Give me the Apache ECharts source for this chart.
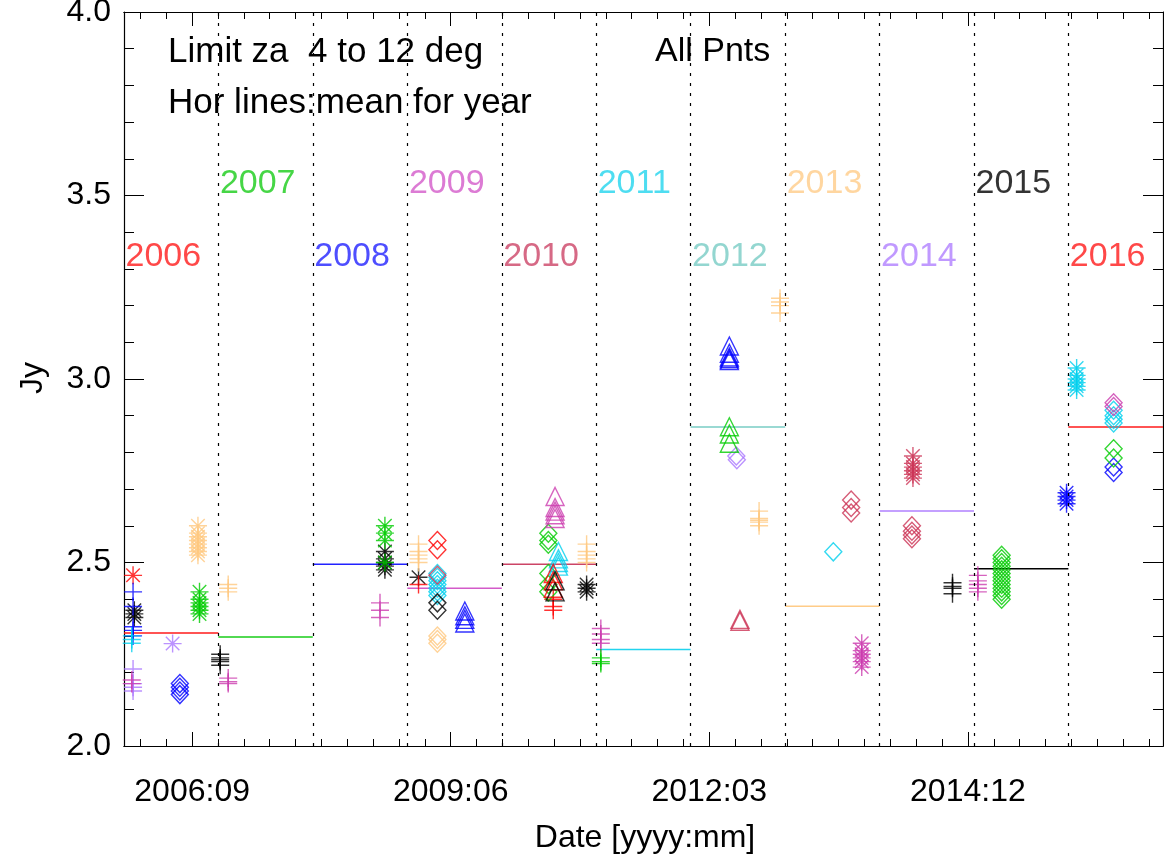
<!DOCTYPE html>
<html><head><meta charset="utf-8">
<script src="https://cdn.jsdelivr.net/npm/echarts@6/dist/echarts.min.js"></script>
<style>html,body{margin:0;padding:0;background:#fff}#c{width:1164px;height:863px}</style>
</head><body><div id="c"></div>
<script>
// ---------------- DATA ----------------
// points: [date, Jy]
const astRed      = [['2006-02-05',2.465]];
const astBlack    = [['2006-02-10',2.37],['2006-02-10',2.36],['2006-02-10',2.35],
                     ['2008-10-06',2.53],['2008-10-06',2.51],['2008-10-06',2.50],['2008-10-06',2.49],['2008-10-06',2.48],
                     ['2009-02-13',2.46],
                     ['2010-11-25',2.44],['2010-11-25',2.43],['2010-11-25',2.42]];
const astGreen    = [['2006-10-20',2.42],['2006-10-20',2.40],['2006-10-20',2.39],['2006-10-20',2.38],['2006-10-20',2.37],['2006-10-20',2.36],
                     ['2008-10-06',2.60],['2008-10-06',2.58],['2008-10-06',2.56],['2008-10-06',2.50]];
const astOrange   = [['2006-10-14',2.60],['2006-10-14',2.58],['2006-10-14',2.57],['2006-10-14',2.56],['2006-10-14',2.55],['2006-10-14',2.54],['2006-10-14',2.53],['2006-10-14',2.52]];
const astLavender = [['2006-07-08',2.279]];
const astMagenta  = [['2013-10-24',2.28],['2013-10-24',2.26],['2013-10-24',2.25],['2013-10-24',2.24],['2013-10-24',2.23],['2013-10-24',2.215]];
const astCrimson  = [['2014-05-10',2.79],['2014-05-10',2.77],['2014-05-10',2.76],['2014-05-10',2.75],['2014-05-10',2.74],['2014-05-10',2.73]];
const astBlue     = [['2015-12-25',2.69],['2015-12-25',2.68],['2015-12-25',2.67],['2015-12-25',2.66]];
const astCyan     = [['2016-02-02',3.03],['2016-02-02',3.01],['2016-02-02',3.00],['2016-02-02',2.99],['2016-02-02',2.98],['2016-02-02',2.97]];

const plusBlue     = [['2006-02-05',2.42],['2006-02-05',2.38],['2006-02-05',2.325],['2006-02-05',2.315],['2006-02-05',2.30]];
const plusCyan     = [['2006-01-31',2.30],['2006-01-31',2.29],['2006-01-31',2.28]];
const plusLavender = [['2006-02-05',2.21],['2006-02-05',2.17],['2006-02-05',2.16],['2006-02-05',2.15]];
const plusMagenta  = [['2006-01-31',2.18],['2006-01-31',2.17],
                      ['2007-02-08',2.185],['2007-02-08',2.175],['2007-02-08',2.17],
                      ['2008-09-17',2.39],['2008-09-17',2.37],['2008-09-17',2.35],
                      ['2011-01-19',2.32],['2011-01-19',2.305],['2011-01-19',2.29],['2011-01-19',2.28],
                      ['2015-01-16',2.465],['2015-01-16',2.45],['2015-01-16',2.44],['2015-01-16',2.43],['2015-01-16',2.42]];
const plusOrange   = [['2007-02-08',2.44],['2007-02-08',2.43],['2007-02-08',2.42],
                      ['2009-02-13',2.55],['2009-02-13',2.53],['2009-02-13',2.52],['2009-02-13',2.51],['2009-02-13',2.50],
                      ['2010-11-25',2.55],['2010-11-25',2.53],['2010-11-25',2.52],['2010-11-25',2.51],['2010-11-25',2.50],
                      ['2012-09-22',2.64],['2012-09-22',2.62],['2012-09-22',2.615],['2012-09-22',2.61],['2012-09-22',2.60],
                      ['2012-12-12',3.22],['2012-12-12',3.21],['2012-12-12',3.20],['2012-12-12',3.18]];
const plusBlack    = [['2007-01-08',2.25],['2007-01-08',2.24],['2007-01-08',2.235],['2007-01-08',2.23],['2007-01-08',2.22],
                      ['2014-10-10',2.445],['2014-10-10',2.435],['2014-10-10',2.43],['2014-10-10',2.415]];
const plusRed      = [['2009-02-13',2.44],['2010-07-19',2.40],['2010-07-19',2.38],['2010-07-19',2.37]];
const plusGreen    = [['2011-01-19',2.24],['2011-01-19',2.23],['2011-01-19',2.225]];

const diaBlue     = [['2006-08-05',2.17],['2006-08-05',2.16],['2006-08-05',2.15],['2006-08-05',2.14],
                     ['2016-06-24',2.76],['2016-06-24',2.745]];
const diaRed      = [['2009-04-27',2.56],['2009-04-27',2.535]];
const diaCyan     = [['2009-04-27',2.47],['2009-04-27',2.46],['2009-04-27',2.45],['2009-04-27',2.44],['2009-04-27',2.43],['2009-04-27',2.42],['2009-04-27',2.41],
                     ['2013-07-06',2.529],
                     ['2016-06-24',2.915],['2016-06-24',2.90],['2016-06-24',2.89],['2016-06-24',2.88]];
const diaCrimson  = [['2009-04-27',2.465],
                     ['2013-09-13',2.67],['2013-09-13',2.65],['2013-09-13',2.635],
                     ['2014-05-06',2.60],['2014-05-06',2.585],['2014-05-06',2.575],['2014-05-06',2.565]];
const diaBlack    = [['2009-04-27',2.39],['2009-04-27',2.37]];
const diaOrange   = [['2009-04-27',2.30],['2009-04-27',2.29],['2009-04-27',2.28]];
const diaGreen    = [['2010-06-30',2.58],['2010-06-30',2.56],['2010-06-30',2.55],['2010-06-30',2.47],['2010-06-30',2.44],['2010-06-30',2.42],
                     ['2015-04-18',2.52],['2015-04-18',2.51],['2015-04-18',2.50],['2015-04-18',2.49],['2015-04-18',2.48],['2015-04-18',2.47],
                     ['2015-04-18',2.46],['2015-04-18',2.45],['2015-04-18',2.44],['2015-04-18',2.43],['2015-04-18',2.42],['2015-04-18',2.41],['2015-04-18',2.40],
                     ['2016-06-24',2.81],['2016-06-24',2.785]];
const diaLavender = [['2012-06-26',2.79],['2012-06-28',2.78]];
const diaMagenta  = [['2016-06-24',2.935],['2016-06-24',2.925]];

const triBlue     = [['2009-08-11',2.368],['2009-08-11',2.355],['2009-08-11',2.345],['2009-08-11',2.335],
                     ['2012-05-30',3.09],['2012-05-30',3.07],['2012-05-30',3.06],['2012-05-30',3.055],['2012-05-30',3.05]];
const triMagenta  = [['2010-07-26',2.68],['2010-07-26',2.65],['2010-07-26',2.64],['2010-07-26',2.63],['2010-07-26',2.62]];
const triCyan     = [['2010-08-08',2.53],['2010-08-08',2.51],['2010-08-08',2.50],['2010-08-08',2.49]];
const triRed      = [['2010-07-19',2.47],['2010-07-19',2.45],['2010-07-19',2.43]];
const triBlack    = [['2010-07-26',2.45],['2010-07-26',2.42]];
const triGreen    = [['2012-05-30',2.87],['2012-05-30',2.85],['2012-05-30',2.825]];
const triCrimson  = [['2012-07-10',2.345],['2012-07-10',2.34]];

// yearly means (horizontal lines)
const years     = [2006,2007,2008,2009,2010,2011,2012,2013,2014,2015,2016];
const yearMeans = [2.308,2.297,2.495,2.430,2.495,2.263,2.869,2.381,2.640,2.483,2.869];

// x ticks (Julian dates) and labels
const majorJD    = [2454000,2455000,2456000,2457000];
const tickLabels = ['2006:09','2009:06','2012:03','2014:12'];

// ---------------- STYLE ----------------
const F = "'Liberation Sans', Helvetica, Arial, sans-serif";
const C = {red:'#ff0000', green:'#00cc00', blue:'#0000ff', magenta:'#cc3caf', crimson:'#cc3355',
           cyan:'#00d0ee', orange:'#ffc880', lavender:'#aa77ff', black:'#000000'};
const yearColors = ['#ff1a1a','#18cc18','#2222ff','#d35ac9','#cc4466','#22d4ee','#78ccc4','#ffcc88','#b080ff','#000000','#ff1a1a'];
const SYM = {
  ast: 'path://M0,-10L0,10M-10,0L10,0M-7.5,-7.5L7.5,7.5M-7.5,7.5L7.5,-7.5',
  plus: 'path://M0,-10L0,10M-10,0L10,0',
  dia: 'diamond', tri: 'triangle'
};
const groups = [
  [astRed,'ast','red'],[astBlack,'ast','black'],[astGreen,'ast','green'],[astOrange,'ast','orange'],
  [astLavender,'ast','lavender'],[astMagenta,'ast','magenta'],[astCrimson,'ast','crimson'],[astBlue,'ast','blue'],[astCyan,'ast','cyan'],
  [plusBlue,'plus','blue'],[plusCyan,'plus','cyan'],[plusLavender,'plus','lavender'],[plusMagenta,'plus','magenta'],
  [plusOrange,'plus','orange'],[plusBlack,'plus','black'],[plusRed,'plus','red'],[plusGreen,'plus','green'],
  [diaBlue,'dia','blue'],[diaRed,'dia','red'],[diaCyan,'dia','cyan'],[diaCrimson,'dia','crimson'],[diaBlack,'dia','black'],
  [diaOrange,'dia','orange'],[diaGreen,'dia','green'],[diaLavender,'dia','lavender'],[diaMagenta,'dia','magenta'],
  [triBlue,'tri','blue'],[triMagenta,'tri','magenta'],[triCyan,'tri','cyan'],[triRed,'tri','red'],
  [triBlack,'tri','black'],[triGreen,'tri','green'],[triCrimson,'tri','crimson']
];

const DAY = 86400000;
const t = s => Date.parse(s + 'T00:00:00Z');
const jdMs = jd => (jd - 2440587.5) * DAY;
const majorMs = majorJD.map(jdMs);
const minorMs = [];
for (let j = majorJD[0] - 200; j <= majorJD[majorJD.length-1] + 700; j += 100) minorMs.push(jdMs(j));
const xmin = Date.UTC(2006,0,1), xmax = Date.UTC(2017,0,1);

const series = [];
// year boundary dotted lines + mean lines
years.forEach((y, i) => {
  const s = {
    type:'line', z:1, silent:true, showSymbol:false, symbol:'none',
    data:[[Date.UTC(y,0,1), yearMeans[i]],[Date.UTC(y+1,0,1), yearMeans[i]]],
    lineStyle:{color:yearColors[i], width:1.5}
  };
  if (i === 0) {
    s.markLine = {silent:true, symbol:['none','none'], label:{show:false},
      lineStyle:{color:'#000', width:1.2, type:[3,7]},
      data: years.slice(1).map(yy => ({xAxis: Date.UTC(yy,0,1)}))};
  }
  series.push(s);
});
groups.forEach(([arr, sym, col]) => {
  series.push({
    type:'scatter', z:3, silent:true, symbol:SYM[sym],
    symbolSize: sym==='dia' ? [17,18] : 18,
    data: arr.map(p => [t(p[0]), p[1]]),
    itemStyle:{color:'rgba(0,0,0,0)', borderColor:C[col], borderWidth:1.4}
  });
});
// year labels
series.push({
  type:'scatter', z:4, silent:true, symbolSize:1, itemStyle:{color:'rgba(0,0,0,0)'},
  data: years.map((y,i) => ({value:[Date.UTC(y,0,1), i%2 ? 3.532 : 3.333],
        label:{show:true, position:'right', distance:1, formatter:String(y), color:yearColors[i],
               fontSize:34, fontFamily:F}}))
});

const xBase = {type:'value', min:xmin, max:xmax, splitLine:{show:false},
  axisLine:{show:true, onZero:false, lineStyle:{color:'#000', width:1.2}}};
const tickStyle = {color:'#000', width:1};
const yBase = {type:'value', min:2, max:4, interval:0.5, splitLine:{show:false},
  axisLine:{show:true, onZero:false, lineStyle:{color:'#000', width:1.2}},
  axisTick:{show:true, inside:true, length:20, lineStyle:tickStyle},
  minorTick:{show:true, splitNumber:5, length:10, lineStyle:tickStyle}};

const option = {
  animation:false,
  backgroundColor:'#fff',
  grid:{left:124, right:1, top:12, bottom:117, containLabel:false, outerBoundsMode:'none'},
  xAxis:[
    Object.assign({}, xBase, {position:'bottom',
      axisTick:{show:true, inside:true, length:14, customValues:majorMs, lineStyle:tickStyle},
      axisLabel:{show:true, customValues:majorMs, margin:30, fontSize:32, fontFamily:F, color:'#000',
        formatter: v => tickLabels[majorMs.indexOf(v)] || ''}}),
    Object.assign({}, xBase, {position:'bottom',
      axisTick:{show:true, inside:true, length:7, customValues:minorMs, lineStyle:tickStyle},
      axisLabel:{show:false}}),
    Object.assign({}, xBase, {position:'top',
      axisTick:{show:true, inside:true, length:14, customValues:majorMs, lineStyle:tickStyle},
      axisLabel:{show:false}}),
    Object.assign({}, xBase, {position:'top',
      axisTick:{show:true, inside:true, length:7, customValues:minorMs, lineStyle:tickStyle},
      axisLabel:{show:false}})
  ],
  yAxis:[
    Object.assign({}, yBase, {position:'left',
      axisLabel:{show:true, margin:13, fontSize:32, fontFamily:F, color:'#000', formatter:v => v.toFixed(1)}}),
    Object.assign({}, yBase, {position:'right', axisLabel:{show:false}})
  ],
  graphic:[
    {type:'text', x:168, y:52, style:{text:'Limit za  4 to 12 deg', fontSize:35, fontFamily:F, fill:'#000', align:'left', verticalAlign:'middle'}},
    {type:'text', x:168, y:103, style:{text:'Hor lines:mean for year', fontSize:35, fontFamily:F, fill:'#000', align:'left', verticalAlign:'middle'}},
    {type:'text', x:655, y:52, style:{text:'All Pnts', fontSize:34, fontFamily:F, fill:'#000', align:'left', verticalAlign:'middle'}},
    {type:'text', x:33, y:378, rotation:Math.PI/2, style:{text:'Jy', fontSize:32, fontFamily:F, fill:'#000', align:'center', verticalAlign:'middle'}},
    {type:'text', x:645, y:838, style:{text:'Date [yyyy:mm]', fontSize:32, fontFamily:F, fill:'#000', align:'center', verticalAlign:'middle'}}
  ],
  series: series
};
const chart = echarts.init(document.getElementById('c'), null, {renderer:'canvas'});
chart.setOption(option);
</script>
</body></html>
